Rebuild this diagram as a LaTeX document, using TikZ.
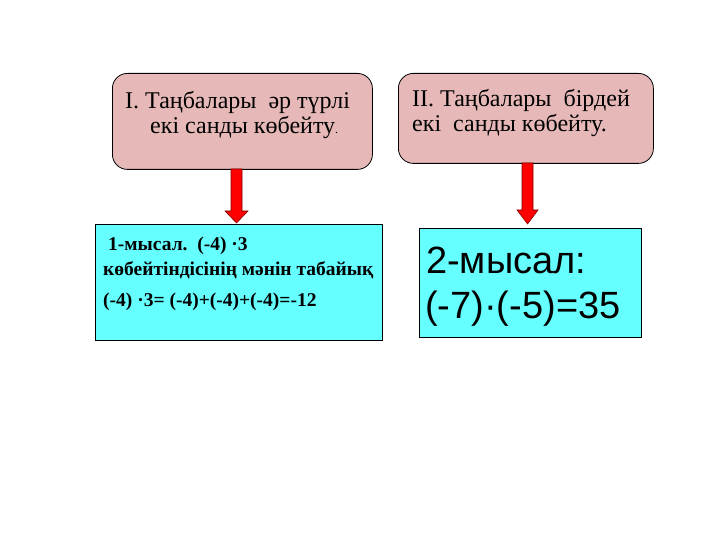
\documentclass[tikz,border=0pt]{standalone}
\usepackage{fontspec}
\usetikzlibrary{calc}
\setmainfont{Liberation Serif}
\newfontfamily\arialf{Liberation Sans}
\definecolor{pinkfill}{HTML}{E6B9B8}
\definecolor{cyanfill}{HTML}{66FFFF}
\definecolor{arrowred}{HTML}{FF0000}
\definecolor{arrowedge}{HTML}{800000}
\begin{document}
\begin{tikzpicture}[x=1pt,y=-1pt,
  pinkbox/.style={draw=black, line width=0.8pt, fill=pinkfill, rounded corners=15pt, anchor=north west, inner sep=0pt},
  cyanbox/.style={draw=black, line width=0.8pt, fill=cyanfill, anchor=north west, inner sep=0pt},
  blockarrow/.style={fill=arrowred, draw=arrowedge, line width=0.6pt, line join=miter},
  serifline/.style={anchor=base west, inner sep=0pt, font=\fontsize{24}{25}\selectfont},
  boldline/.style={anchor=base west, inner sep=0pt, font=\fontsize{19.5}{22}\selectfont\bfseries},
  bigline/.style={anchor=base west, inner sep=0pt, font=\arialf\fontsize{38}{44}\selectfont}]
\useasboundingbox (0,0) rectangle (720,540);
% boxes
\node[pinkbox, minimum width=260pt, minimum height=96pt] (b1) at (112,73) {};
\node[pinkbox, minimum width=255pt, minimum height=90pt] (b2) at (398,73) {};
\node[cyanbox, minimum width=287pt, minimum height=116pt] (c1) at (95,224) {};
\node[cyanbox, minimum width=222pt, minimum height=109pt] (c2) at (419,228) {};
% arrows
\coordinate (a1s) at (236.5,169);
\coordinate (a1t) at (236.5,223);
\draw[blockarrow] ($(a1s)+(-5.5,0)$) -- ($(a1s)+(5.5,0)$) -- (242,211) -- (248,211) -- (a1t) -- (225,211) -- (231,211) -- cycle;
\coordinate (a2s) at (527.5,163);
\coordinate (a2t) at (527.5,224);
\draw[blockarrow] ($(a2s)+(-5.5,0)$) -- ($(a2s)+(5.5,0)$) -- (533,210) -- (538,210) -- (a2t) -- (517,210) -- (522,210) -- cycle;
% texts
\node[serifline] (t11) at (125,109) {I. Таңбалары\ \ әр түрлі};
\node[serifline] (t12) at (150,134) {екі санды көбейту{\fontsize{12}{12}\selectfont.}};
\node[serifline] (t21) at (412,107) {II. Таңбалары\ \ бірдей};
\node[serifline] (t22) at (412,132) {екі\ \ санды көбейту.};
\node[boldline] (t31) at (108,251) {1-мысал.\ \ (-4) ·3};
\node[boldline] (t32) at (103,275) {көбейтіндісінің мәнін табайық};
\node[boldline] (t33) at (103,306) {(-4) ·3= (-4)+(-4)+(-4)=-12};
\node[bigline] (t41) at (426,273) {2-мысал:};
\node[bigline] (t42) at (425,318) {(-7)·(-5)=35};
\end{tikzpicture}
\end{document}
